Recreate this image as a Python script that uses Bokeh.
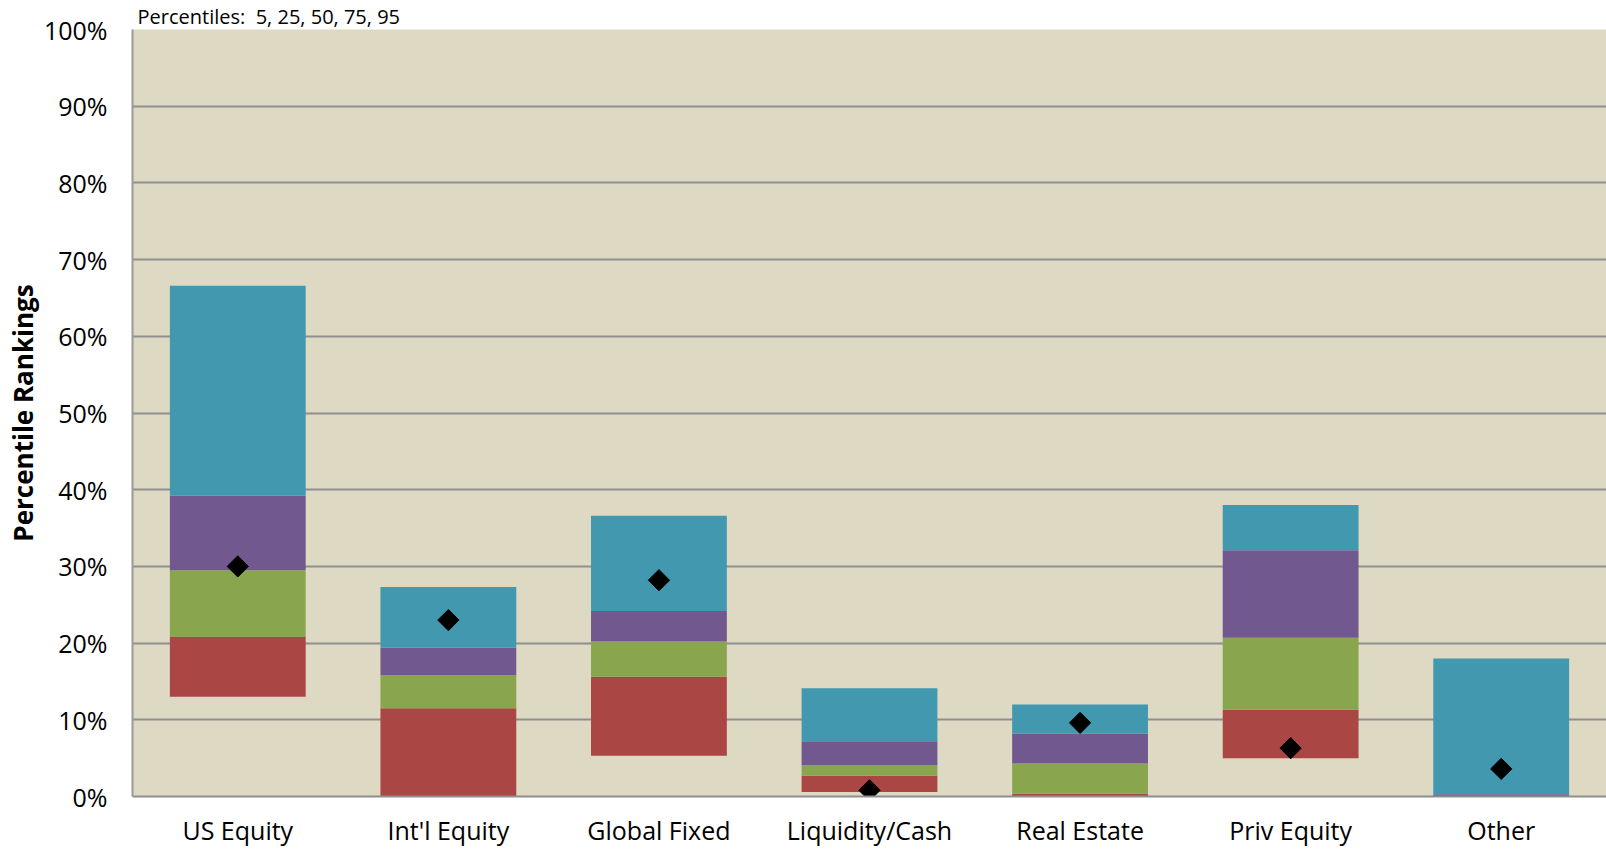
import math
from bokeh.plotting import figure
from bokeh.models import FactorRange, Range1d, FixedTicker, PrintfTickFormatter
from bokeh.embed import file_html
from bokeh.resources import INLINE

categories = ["US Equity", "Int'l Equity", "Global Fixed", "Liquidity/Cash",
              "Real Estate", "Priv Equity", "Other"]
p5 = [13.0, 0.0, 5.3, 0.6, 0.0, 5.0, 0.0]
p25 = [20.8, 11.5, 15.6, 2.7, 0.35, 11.3, 0.0]
p50 = [29.5, 15.8, 20.2, 4.1, 4.3, 20.7, 0.0]
p75 = [39.2, 19.4, 24.2, 7.2, 8.2, 32.1, 0.3]
p95 = [66.6, 27.3, 36.6, 14.1, 12.0, 38.0, 18.0]
marker_values = [30.0, 23.0, 28.2, 0.8, 9.6, 6.3, 3.6]
y_ticks = list(range(0, 101, 10))

seg_colors = ["#AA4643", "#89A54E", "#71588F", "#4198AF"]
FONT = "Open Sans"
W, H = 1606, 849

p = figure(x_range=FactorRange(factors=categories, range_padding=0),
           y_range=Range1d(0, 100),
           width=W, height=H, output_backend="svg", toolbar_location=None,
           min_border_left=132, min_border_right=0, min_border_top=28,
           min_border_bottom=51,
           title="Percentiles:\u00a0 5, 25, 50, 75, 95")
p.background_fill_color = "#DDD9C3"
p.border_fill_color = "white"
p.outline_line_color = None

p.title.text_font = FONT
p.title.text_font_size = "20px"
p.title.text_font_style = "normal"
p.title.text_color = "black"
p.title.align = "left"
p.title.offset = 5
p.title.standoff = 0
p.title.text_line_height = 0.8

layers = [(p5, p25), (p25, p50), (p50, p75), (p75, p95)]
for (lo, hi), c in zip(layers, seg_colors):
    p.vbar(x=categories, bottom=lo, top=hi, width=0.645, fill_color=c,
           line_color=None)

p.scatter(x=categories, y=marker_values, marker="square", size=15,
          angle=math.pi / 4, fill_color="black", line_color="black")

p.xgrid.grid_line_color = None
p.ygrid.grid_line_color = "#8f8f8f"
p.ygrid.grid_line_width = 2
p.ygrid.ticker = FixedTicker(ticks=y_ticks)

p.yaxis.ticker = FixedTicker(ticks=y_ticks)
p.yaxis.formatter = PrintfTickFormatter(format="%d%%")
p.yaxis.major_tick_line_color = None
p.yaxis.minor_tick_line_color = None
p.yaxis.major_tick_out = 0
p.yaxis.major_label_standoff = 25
p.yaxis.axis_line_color = "#9a9a9a"
p.yaxis.axis_line_width = 2
p.yaxis.major_label_text_font = FONT
p.yaxis.major_label_text_font_size = "25px"
p.yaxis.major_label_text_color = "black"
p.yaxis.axis_label = "Percentile Rankings"
p.yaxis.axis_label_text_font = FONT
p.yaxis.axis_label_text_font_style = "bold"
p.yaxis.axis_label_text_font_size = "26px"
p.yaxis.axis_label_text_color = "black"
p.yaxis.axis_label_standoff = 0

p.xaxis.major_tick_line_color = None
p.xaxis.major_tick_out = 0
p.xaxis.axis_line_color = "#8f8f8f"
p.xaxis.axis_line_width = 2
p.xaxis.major_label_standoff = 16
p.xaxis.major_label_text_font = FONT
p.xaxis.major_label_text_font_size = "25px"
p.xaxis.major_label_text_color = "black"

open("out.html", "w").write(file_html(p, INLINE))
